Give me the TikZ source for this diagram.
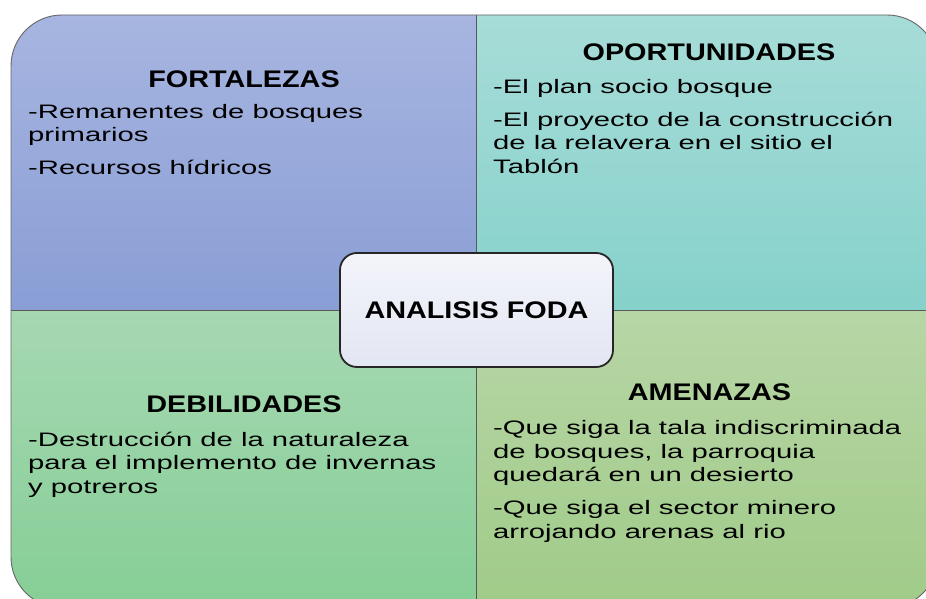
\documentclass[tikz,border=0pt]{standalone}
\usepackage{fontspec}
\setmainfont{Liberation Sans}[FakeStretch=1.5]
\newfontfamily\headfont{Liberation Sans}[FakeStretch=1.2]

\definecolor{fortTop}{HTML}{A7B5E0}
\definecolor{fortBot}{HTML}{899ED5}
\definecolor{opTop}{HTML}{A7DCD8}
\definecolor{opBot}{HTML}{86D1CB}
\definecolor{debTop}{HTML}{A6D8B2}
\definecolor{debBot}{HTML}{86CE96}
\definecolor{amTop}{HTML}{B7D6A6}
\definecolor{amBot}{HTML}{A0CB88}
\definecolor{centerTop}{HTML}{F4F5FB}
\definecolor{centerBot}{HTML}{E2E6F2}

\tikzset{
    quadhead/.style={anchor=base, inner sep=0pt,
        font=\headfont\fontsize{24}{28}\selectfont\bfseries},
    quadbody/.style={anchor=base west, inner sep=0pt, align=left,
        font=\fontsize{19.5}{23.5}\selectfont},
    centerbox/.style={draw=black!85, line width=1.8pt, rounded corners=17pt,
        minimum width=273pt, minimum height=114pt,
        top color=centerTop, bottom color=centerBot,
        font=\headfont\fontsize{24}{28}\selectfont\bfseries},
    divider/.style={draw=gray!70!black, line width=0.9pt}
}

\begin{document}
\begin{tikzpicture}[x=1pt, y=-1pt]
    \useasboundingbox (0,0) rectangle (926,599);

    \begin{scope}
        \clip[rounded corners=51pt] (11,15) rectangle (938,608);
        \shade[top color=fortTop, bottom color=fortBot] (11,15) rectangle (476,310);
        \shade[top color=opTop, bottom color=opBot] (476,15) rectangle (938,310);
        \shade[top color=debTop, bottom color=debBot] (11,310) rectangle (476,608);
        \shade[top color=amTop, bottom color=amBot] (476,310) rectangle (938,608);
    \end{scope}
    \draw[divider] (476,15) -- (476,608);
    \draw[divider] (11,310) -- (938,310);
    \draw[gray!80!black, line width=0.9pt, rounded corners=51pt] (11,15) rectangle (938,608);

    % F (body placed by its last line)
    \node[quadhead] (fortHead) at (244,88) {FORTALEZAS};
    \node[quadbody] (fortBody) at (28,175) {-Remanentes de bosques\\primarios\\[9.5pt]-Recursos h\'idricos};

    % O
    \node[quadhead] (opHead) at (709,61) {OPORTUNIDADES};
    \node[quadbody] (opBody) at (493,173) {-El plan socio bosque\\[9.5pt]-El proyecto de la construcci\'on\\de la relavera en el sitio el\\Tabl\'on};

    % D
    \node[quadhead] (debHead) at (244,412) {DEBILIDADES};
    \node[quadbody] (debBody) at (28,493.3) {-Destrucci\'on de la naturaleza\\para el implemento de invernas\\y potreros};

    % A
    \node[quadhead] (amHead) at (709.5,400) {AMENAZAS};
    \node[quadbody] (amBody) at (493,538.3) {-Que siga la tala indiscriminada\\de bosques, la parroquia\\quedar\'a en un desierto\\[9.5pt]-Que siga el sector minero\\arrojando arenas al rio};

    \node[centerbox] (foda) at (476.5,310) {ANALISIS FODA};
\end{tikzpicture}
\end{document}
